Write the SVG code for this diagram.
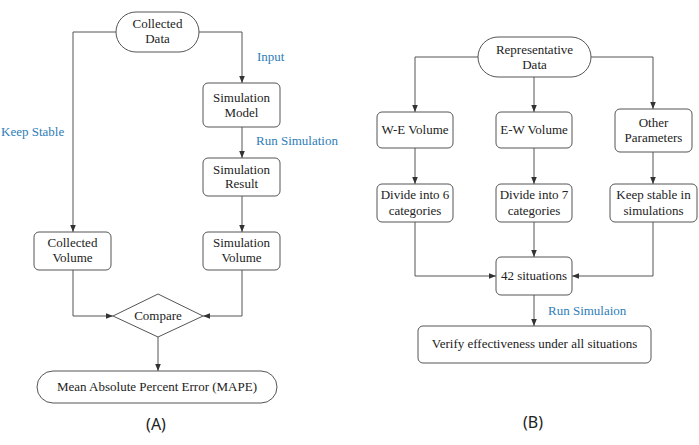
<svg xmlns="http://www.w3.org/2000/svg" width="699" height="445" viewBox="0 0 699 445">
<defs>
<marker id="ah" viewBox="0 0 8 8" refX="8" refY="4" markerWidth="7" markerHeight="7" markerUnits="userSpaceOnUse" orient="auto">
<path d="M0,0.8 L8,4 L0,7.2 Z" fill="#333"/>
</marker>
<style>
.box{fill:#fff;stroke:#555;stroke-width:1}
.t{font-size:13px;fill:#222;text-anchor:middle}
.lbl{font-size:13px;fill:#2E7DB8}
.cap{font-size:16px;fill:#222;text-anchor:middle}
.c{fill:none;stroke:#555;stroke-width:1;marker-end:url(#ah)}
</style>
</defs>
<rect width="699" height="445" fill="#fff"/>
<g id="connectors">
<path class="c" d="M116,32 H73 V232"/>
<path class="c" d="M199,32 H242 V83"/>
<path class="c" d="M242,127 V158"/>
<path class="c" d="M242,196 V232"/>
<path class="c" d="M73,270 V316 H113"/>
<path class="c" d="M242,270 V316 H203"/>
<path class="c" d="M158,337 V371"/>
<path class="c" d="M478,57 H415 V112"/>
<path class="c" d="M534,77 V112"/>
<path class="c" d="M591,57 H653 V109"/>
<path class="c" d="M415,148 V184"/>
<path class="c" d="M534,148 V184"/>
<path class="c" d="M653,152 V184"/>
<path class="c" d="M415,222 V276 H496"/>
<path class="c" d="M534,222 V257"/>
<path class="c" d="M653,222 V276 H572"/>
<path class="c" d="M534,295 V326"/>
</g>
<g font-family="'Liberation Serif', 'DejaVu Serif', 'Times New Roman', serif">
<g id="labels">
<text class="lbl" x="257" y="61">Input</text>
<text class="lbl" x="1" y="136">Keep Stable</text>
<text class="lbl" x="256" y="145">Run Simulation</text>
<text class="lbl" x="548" y="315">Run Simulaion</text>
</g>
<g id="collected-data">
<rect class="box" x="116" y="12" width="83" height="40" rx="20"/>
<text class="t" x="157.5" y="28">Collected</text>
<text class="t" x="157.5" y="43">Data</text>
</g>
<g id="simulation-model">
<rect class="box" x="203" y="83" width="77" height="44" rx="5"/>
<text class="t" x="241.5" y="102">Simulation</text>
<text class="t" x="241.5" y="117">Model</text>
</g>
<g id="simulation-result">
<rect class="box" x="203" y="158" width="77" height="38" rx="5"/>
<text class="t" x="241.5" y="174">Simulation</text>
<text class="t" x="241.5" y="188">Result</text>
</g>
<g id="collected-volume">
<rect class="box" x="34" y="232" width="77" height="38" rx="5"/>
<text class="t" x="72.5" y="247">Collected</text>
<text class="t" x="72.5" y="262">Volume</text>
</g>
<g id="simulation-volume">
<rect class="box" x="203" y="232" width="77" height="38" rx="5"/>
<text class="t" x="241.5" y="247">Simulation</text>
<text class="t" x="241.5" y="262">Volume</text>
</g>
<g id="compare">
<polygon class="box" points="158,294 203,316 158,337 113,316"/>
<text class="t" x="158" y="320">Compare</text>
</g>
<g id="mape">
<rect class="box" x="37" y="371" width="240" height="32" rx="16"/>
<text class="t" x="157" y="391">Mean Absolute Percent Error (MAPE)</text>
</g>
<g id="representative-data">
<rect class="box" x="478" y="37" width="113" height="40" rx="20"/>
<text class="t" x="534.5" y="54">Representative</text>
<text class="t" x="534.5" y="69">Data</text>
</g>
<g id="we-volume">
<rect class="box" x="377" y="112" width="76" height="36" rx="5"/>
<text class="t" x="415" y="134">W-E Volume</text>
</g>
<g id="ew-volume">
<rect class="box" x="496" y="112" width="76" height="36" rx="5"/>
<text class="t" x="534" y="134">E-W Volume</text>
</g>
<g id="other-parameters">
<rect class="box" x="615" y="109" width="77" height="43" rx="5"/>
<text class="t" x="653.5" y="127">Other</text>
<text class="t" x="653.5" y="142">Parameters</text>
</g>
<g id="divide-6">
<rect class="box" x="377" y="184" width="76" height="38" rx="5"/>
<text class="t" x="415" y="199">Divide into 6</text>
<text class="t" x="415" y="215">categories</text>
</g>
<g id="divide-7">
<rect class="box" x="496" y="184" width="76" height="38" rx="5"/>
<text class="t" x="534" y="199">Divide into 7</text>
<text class="t" x="534" y="215">categories</text>
</g>
<g id="keep-stable">
<rect class="box" x="610" y="184" width="87" height="38" rx="5"/>
<text class="t" x="653.5" y="199">Keep stable in</text>
<text class="t" x="653.5" y="215">simulations</text>
</g>
<g id="situations">
<rect class="box" x="496" y="257" width="76" height="38" rx="5"/>
<text class="t" x="534" y="280">42 situations</text>
</g>
<g id="verify">
<rect class="box" x="418" y="326" width="233" height="37" rx="5"/>
<text class="t" x="534.5" y="348">Verify effectiveness under all situations</text>
</g>
</g>
<g id="captions" font-family="'Noto Sans', 'DejaVu Sans', sans-serif">
<text class="cap" x="156" y="430">(A)</text>
<text class="cap" x="533" y="428">(B)</text>
</g>
</svg>
